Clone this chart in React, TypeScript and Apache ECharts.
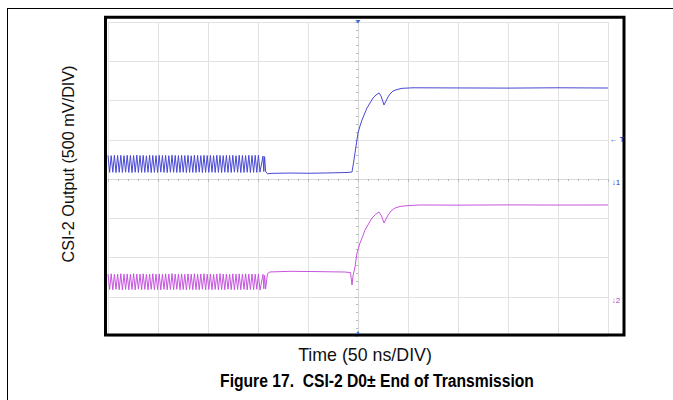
import React, { useEffect, useRef } from "react";
import * as echarts from "echarts";

// Oscilloscope settings: 10 horizontal divisions of 50 ns, 8 vertical divisions of 500 mV
const timeMin = -250;
const timeMax = 250;
const timeDiv = 50;
const voltMin = -2000;
const voltMax = 2000;
const voltDiv = 500;

// HS burst section: one level per half period
const burstStart = -250;
const burstStep = 1.6;
const burstHold = 0.55;

const blueBurst = [
  300, 84, 298, 86, 303, 82, 299, 85, 301, 83, 297, 87, 302, 84, 300, 82, 298, 86, 304, 83,
  299, 85, 301, 84, 296, 86, 303, 82, 300, 85, 298, 83, 302, 87, 299, 84, 301, 82, 297, 86,
  303, 85, 300, 83, 298, 84, 302, 86, 299, 82, 301, 85, 296, 84, 303, 83, 300, 87, 298, 82,
  302, 85, 299, 84, 301, 86, 297, 83, 303, 85, 300, 82, 298, 86, 302, 84, 299, 83, 301, 87,
  296, 85, 303, 82, 300, 84, 298, 86, 302, 83, 299, 85, 301, 84, 304, 88,
];

const magentaBurst = [
  -1212, -1408, -1208, -1412, -1215, -1405, -1210, -1410, -1207, -1413, -1213, -1406, -1209, -1411, -1214, -1408, -1206, -1412, -1211, -1404,
  -1213, -1410, -1208, -1407, -1215, -1412, -1210, -1405, -1207, -1411, -1212, -1409, -1209, -1413, -1214, -1406, -1208, -1410, -1211, -1407,
  -1206, -1412, -1213, -1405, -1210, -1411, -1208, -1408, -1215, -1413, -1209, -1406, -1212, -1410, -1207, -1409, -1214, -1411, -1210, -1405,
  -1208, -1412, -1213, -1407, -1209, -1410, -1215, -1406, -1211, -1413, -1207, -1408, -1212, -1411, -1210, -1405, -1214, -1409, -1208, -1412,
  -1213, -1407, -1209, -1410, -1211, -1406, -1207, -1413, -1212, -1408, -1210, -1411, -1214, -1405, -1209, -1415,
];

// End of burst, LP state and transition: [time ns, mV]
const blueTail: [number, number][] = [
  [-95, 292], [-94.2, 95], [-93.4, 285], [-92.4, 98], [-90.5, 66], [-86, 72], [-68, 76], [-48, 73],
  [-28, 78], [-13, 82], [-8, 86], [-6, 89], [-4.5, 204], [-3, 331], [-1.5, 459], [0, 586],
  [2, 675], [4, 752], [6.5, 828], [9, 905], [12, 968], [15, 1032], [18, 1070], [21, 1096],
  [23, 1058], [26, 943], [28, 994], [30, 1045], [32, 1083], [35, 1121], [39, 1140], [44, 1155],
  [55, 1162], [100, 1160], [150, 1158], [200, 1162], [250, 1159],
];

const magentaTail: [number, number][] = [
  [-95, -1215], [-94.2, -1398], [-93.4, -1228], [-92.4, -1402], [-90.5, -1205], [-88, -1184],
  [-68, -1176], [-38, -1180], [-13, -1185], [-7.5, -1192], [-6, -1350], [-5, -1235],
  [-3, -1121], [-2, -1032], [-1, -943], [2, -815], [4.5, -739], [7, -650], [10.5, -573],
  [14, -497], [17.5, -452], [21, -420], [23.5, -471], [26, -561], [28, -510], [30, -459],
  [33, -408], [37, -370], [42, -350], [49, -340], [62, -331], [100, -333], [150, -330],
  [200, -332], [250, -331],
];

const yLabel = "CSI-2 Output (500 mV/DIV)";
const xLabel = "Time (50 ns/DIV)";
const caption = "Figure 17.  CSI-2 D0\u00b1 End of Transmission";

const blueColor = "#4848d2";
const magentaColor = "#c655de";

function burstToPoints(levels: number[]): [number, number][] {
  const pts: [number, number][] = [];
  levels.forEach((v, i) => {
    const t = burstStart + i * burstStep;
    pts.push([t, v], [t + burstHold, v]);
  });
  return pts;
}

export default function App() {
  const ref = useRef<HTMLDivElement>(null);

  useEffect(() => {
    if (!ref.current) return;
    const chart = echarts.init(ref.current, undefined, { renderer: "svg" });

    const blueData = burstToPoints(blueBurst).concat(blueTail);
    const magentaData = burstToPoints(magentaBurst).concat(magentaTail);

    const font = '"Liberation Sans", Arial, sans-serif';

    chart.setOption({
      animation: false,
      backgroundColor: "#ffffff",
      grid: { left: 108, right: 65, top: 22, bottom: 64 },
      xAxis: {
        type: "value",
        min: timeMin,
        max: timeMax,
        interval: timeDiv,
        axisLine: { show: true, onZero: true, lineStyle: { color: "#d8d8d8", width: 1 } },
        axisTick: { show: true, length: 3, lineStyle: { color: "#b8b8b8" } },
        minorTick: { show: true, splitNumber: 5, length: 2, lineStyle: { color: "#b8b8b8" } },
        axisLabel: { show: false },
        splitLine: { show: true, lineStyle: { color: "#e2e2e2", width: 1 } },
      },
      yAxis: {
        type: "value",
        min: voltMin,
        max: voltMax,
        interval: voltDiv,
        axisLine: { show: true, onZero: true, lineStyle: { color: "#d8d8d8", width: 1 } },
        axisTick: { show: true, length: 3, lineStyle: { color: "#b8b8b8" } },
        minorTick: { show: true, splitNumber: 5, length: 2, lineStyle: { color: "#b8b8b8" } },
        axisLabel: { show: false },
        splitLine: { show: true, lineStyle: { color: "#e2e2e2", width: 1 } },
      },
      series: [
        {
          type: "line",
          data: blueData,
          showSymbol: false,
          symbol: "none",
          lineStyle: { color: blueColor, width: 1 },
          z: 3,
        },
        {
          type: "line",
          data: magentaData,
          showSymbol: false,
          symbol: "none",
          lineStyle: { color: magentaColor, width: 1 },
          z: 3,
        },
      ],
      graphic: [
        { type: "line", shape: { x1: 7, y1: 8.5, x2: 673, y2: 8.5 }, style: { stroke: "#000", lineWidth: 1 } },
        { type: "line", shape: { x1: 7.5, y1: 8, x2: 7.5, y2: 400 }, style: { stroke: "#000", lineWidth: 1 } },
        {
          type: "rect",
          shape: { x: 105.5, y: 17.3, width: 518.5, height: 317.7 },
          style: { fill: "none", stroke: "#000", lineWidth: 3 },
          z: 10,
        },
        { type: "polygon", shape: { points: [[355.5, 20], [360.5, 20], [358, 23.5]] }, style: { fill: "#3b6fd8" }, z: 11 },
        { type: "polygon", shape: { points: [[355.8, 334], [360.2, 334], [358, 331]] }, style: { fill: "#3b6fd8" }, z: 11 },
        {
          type: "text", x: 617, y: 139,
          style: { text: "\u2190 T", fill: "#3030b0", font: `bold 8px ${font}`, align: "center", verticalAlign: "middle" },
          z: 11,
        },
        {
          type: "text", x: 616, y: 182,
          style: { text: "\u2193\u0031", fill: "#3030b0", font: `8px ${font}`, align: "center", verticalAlign: "middle" },
          z: 11,
        },
        {
          type: "text", x: 616, y: 300,
          style: { text: "\u2193\u0032", fill: "#b040c8", font: `8px ${font}`, align: "center", verticalAlign: "middle" },
          z: 11,
        },
        {
          type: "text", x: 68, y: 164, rotation: Math.PI / 2,
          style: { text: yLabel, fill: "#111", font: `16.2px ${font}`, align: "center", verticalAlign: "middle" },
        },
        {
          type: "text", x: 365, y: 355,
          style: { text: xLabel, fill: "#111", font: `17.8px ${font}`, align: "center", verticalAlign: "middle" },
        },
        {
          type: "text", x: 377, y: 381, scaleX: 0.87,
          style: { text: caption, fill: "#000", font: `bold 18px ${font}`, align: "center", verticalAlign: "middle" },
        },
      ],
    });

    return () => chart.dispose();
  }, []);

  return (
    <div
      ref={ref}
      style={{ position: "fixed", left: 0, top: 0, width: 673, height: 400, background: "#fff" }}
    />
  );
}
